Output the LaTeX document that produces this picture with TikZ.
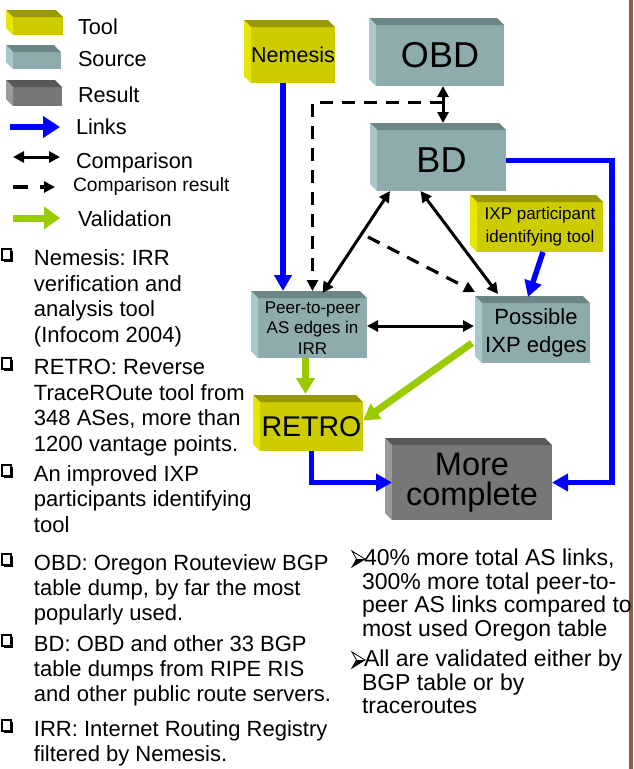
\documentclass[tikz,border=0pt]{standalone}
\usepackage{fontspec}
\setmainfont{Liberation Sans}
\usetikzlibrary{arrows.meta,calc}

\definecolor{toolF}{HTML}{CCCC00}
\definecolor{toolT}{HTML}{999900}
\definecolor{toolL}{HTML}{E6E600}
\definecolor{srcF}{HTML}{8EACAD}
\definecolor{srcT}{HTML}{6C8586}
\definecolor{srcL}{HTML}{A9C8CC}
\definecolor{resF}{HTML}{777777}
\definecolor{resT}{HTML}{575757}
\definecolor{resL}{HTML}{9A9A9A}
\definecolor{linkblue}{HTML}{0000FF}
\definecolor{validgreen}{HTML}{99CC00}
\definecolor{framebrown}{HTML}{8E5B4B}

\newcommand\fs[2]{\fontsize{#1}{#2}\selectfont}

% top and left faces of a 3D box whose front face is node #1
\newcommand\boxfaces[3]{%
  \fill[#2] (#1.north west) -- ++(-7,-7) -- ($(#1.north east)+(-7,-7)$) -- (#1.north east) -- cycle;
  \fill[#3] (#1.north west) -- ++(-7,-7) -- ($(#1.south west)+(-7,-7)$) -- (#1.south west) -- cycle;}

% shadowed square bullet, #1 = baseline of the line
\newcommand\sqbullet[1]{%
  \fill[black] (3.5,#1-14.5) rectangle (12.5,#1-3.5);
  \filldraw[fill=white,draw=black,line width=1.6pt] (1.8,#1-16.2) rectangle (10.8,#1-5.2);}

% arrowhead bullet, #1 = baseline of the line
\newcommand\arbullet[1]{%
  \draw[line width=0.8pt,line join=miter] (352,#1-14) -- (365,#1-6) -- (352,#1+2) -- (356.5,#1-6) -- cycle;
  \fill (365,#1-6) -- (352,#1+2) -- (356.5,#1-6) -- cycle;}

\tikzset{
  every node/.style={inner sep=0pt,outer sep=0pt},
  toolbox/.style={fill=toolF,align=center},
  srcbox/.style={fill=srcF,align=center},
  resbox/.style={fill=resF,align=center},
  link/.style={draw=linkblue,line width=5.5pt,-{Triangle[width=17pt,length=16pt]}},
  valid/.style={draw=validgreen,line width=7pt,-{Triangle[width=18pt,length=16pt]}},
  cmp/.style={draw=black,line width=3pt,{Triangle[width=11pt,length=11pt]}-{Triangle[width=11pt,length=11pt]}},
  cres/.style={draw=black,line width=3.2pt,dash pattern=on 13pt off 9pt,-{Triangle[width=11pt,length=11pt]}},
  legtext/.style={anchor=base west,font=\fs{21.7}{25}},
  btext/.style={anchor=base west,font=\fs{22}{25}},
  rtext/.style={anchor=base west,font=\fs{23}{25}},
}

\begin{document}
\frenchspacing
\begin{tikzpicture}[x=1pt,y=-1pt]
\useasboundingbox (0,0) rectangle (634,769);
\fill[white] (0,0) rectangle (634,769);
\fill[framebrown] (629,0) rectangle (633,769);

% ---------- legend ----------
\node[toolbox,minimum width=50pt,minimum height=18pt] (legtool) at (38,26) {};
\boxfaces{legtool}{toolT}{toolL}
\node[srcbox,minimum width=48pt,minimum height=17pt] (legsrc) at (37,60.5) {};
\boxfaces{legsrc}{srcT}{srcL}
\node[resbox,minimum width=49pt,minimum height=19pt] (legres) at (37.5,96.5) {};
\boxfaces{legres}{resT}{resL}

\node[legtext] (ltool) at (78,34) {Tool};
\node[legtext] (lsrc) at (78,66) {Source};
\node[legtext] (lres) at (78,102) {Result};
\node[legtext] (llink) at (76,134) {Links};
\node[legtext] (lcmp) at (76,168) {Comparison};
\node[legtext,font=\fs{19.3}{22}] (lcres) at (73,191) {Comparison result};
\node[legtext] (lval) at (78,226) {Validation};

\coordinate (lk1) at (10,127);  \coordinate (lk2) at (60,127);
\coordinate (lc1) at (13,157);  \coordinate (lc2) at (60,157);
\coordinate (lr1) at (13,187);  \coordinate (lr2) at (55,187);
\coordinate (lv1) at (13,218);  \coordinate (lv2) at (60,218);
\draw[link,line width=6.5pt,-{Triangle[width=21pt,length=17pt]}] (lk1) -- (lk2);
\draw[cmp] (lc1) -- (lc2);
\draw[cres,dash pattern=on 15pt off 12pt] (lr1) -- (lr2);
\draw[valid,-{Triangle[width=22pt,length=16pt]}] (lv1) -- (lv2);

% ---------- boxes ----------
\node[toolbox,minimum width=84pt,minimum height=56pt,font=\fs{21.5}{25}] (nem) at (293,55) {Nemesis};
\boxfaces{nem}{toolT}{toolL}
\node[srcbox,minimum width=128pt,minimum height=61pt,font=\fs{36}{40}] (obd) at (440,55.5) {OBD};
\boxfaces{obd}{srcT}{srcL}
\node[srcbox,minimum width=129pt,minimum height=61pt,font=\fs{36}{40}] (bd) at (441.5,160.5) {BD};
\boxfaces{bd}{srcT}{srcL}
\node[toolbox,minimum width=126pt,minimum height=50pt,font=\fs{17}{23}] (ixpt) at (540,227) {IXP participant\\identifying tool};
\boxfaces{ixpt}{toolT}{toolL}
\node[srcbox,minimum width=109pt,minimum height=60pt,font=\fs{17}{20.5}] (p2p) at (312.5,328) {Peer-to-peer\\AS edges in\\IRR};
\boxfaces{p2p}{srcT}{srcL}
\node[srcbox,minimum width=108pt,minimum height=60pt,font=\fs{22}{28}] (pix) at (536,333) {Possible\\IXP edges};
\boxfaces{pix}{srcT}{srcL}
\node[toolbox,minimum width=103pt,minimum height=49pt,font=\fs{28.5}{32}] (retro) at (311.5,426.5) {RETRO};
\boxfaces{retro}{toolT}{toolL}
\node[resbox,minimum width=160pt,minimum height=75pt,font=\fs{32.5}{30}] (more) at (472,482.5) {More\\complete};
\boxfaces{more}{resT}{resL}

% ---------- connectors ----------
\coordinate (nemout) at ([xshift=-10pt]nem.south);
\coordinate (p2ptop) at ([yshift=7pt]p2p.north);
\draw[link] (nemout) -- (nemout |- p2ptop);

\coordinate (obdout) at ([xshift=3pt]obd.south);
\coordinate (bdtop) at ([yshift=7pt]bd.north);
\draw[cmp] (obdout) -- (obdout |- bdtop);
\coordinate (cmpmid) at ($(obdout)!0.45!(obdout |- bdtop)$);
\draw[cres] (cmpmid) -| (p2ptop);

\draw[cmp] ([xshift=13pt]bd.south west) -- ([xshift=10pt,yshift=5pt]p2p.north);
\draw[cmp] ([xshift=-21pt]bd.south) -- ([xshift=16pt,yshift=9pt]pix.north west);

\coordinate (cmpres) at (368,237);
\draw[cres] (cmpres) -- ([xshift=-7pt,yshift=11pt]pix.north west);

\coordinate (p2pr) at ([yshift=2pt]p2p.east);
\coordinate (pixl) at ([xshift=-8pt]pix.west);
\draw[cmp] (p2pr) -- (p2pr -| pixl);

\draw[link] ([xshift=3pt]ixpt.south) -- ([xshift=-8pt,yshift=6pt]pix.north);

\coordinate (p2pout) at ([xshift=-7pt]p2p.south);
\coordinate (retrotop) at ([yshift=8pt]retro.north);
\draw[valid] (p2pout) -- (p2pout |- retrotop);
\draw[valid] ([xshift=-10pt,yshift=-10pt]pix.west) -- ([yshift=6pt]retro.east);

\draw[link] (retro.south) |- (more.west);
\draw[link] (bd.east) -- ++(106,0) |- (more.east);

% ---------- left notes ----------
\sqbullet{265}
\node[btext] (n1a) at (34,265) {Nemesis: IRR};
\node[btext] (n1b) at (34,291) {verification and};
\node[btext] (n1c) at (34,316) {analysis tool};
\node[btext] (n1d) at (34,342) {(Infocom 2004)};
\sqbullet{374}
\node[btext] (n2a) at (34,374) {RETRO: Reverse};
\node[btext] (n2b) at (34,400) {TraceROute tool from};
\node[btext] (n2c) at (34,425) {348 ASes, more than};
\node[btext] (n2d) at (34,451) {1200 vantage points.};
\sqbullet{481}
\node[btext] (n3a) at (34,481) {An improved IXP};
\node[btext] (n3b) at (34,506) {participants identifying};
\node[btext] (n3c) at (34,532) {tool};
\sqbullet{570}
\node[btext] (n4a) at (34,570) {OBD: Oregon Routeview BGP};
\node[btext] (n4b) at (34,595) {table dump, by far the most};
\node[btext] (n4c) at (34,620) {popularly used.};
\sqbullet{651}
\node[btext] (n5a) at (34,651) {BD: OBD and other 33 BGP};
\node[btext] (n5b) at (34,676) {table dumps from RIPE RIS};
\node[btext] (n5c) at (34,701) {and other public route servers.};
\sqbullet{736}
\node[btext] (n6a) at (34,736) {IRR: Internet Routing Registry};
\node[btext] (n6b) at (34,761) {filtered by Nemesis.};

% ---------- right notes ----------
\arbullet{565}
\node[rtext] (r1a) at (364,565) {40\% more total AS links,};
\node[rtext] (r1b) at (362,589) {300\% more total peer-to-};
\node[rtext] (r1c) at (362,612) {peer AS links compared to};
\node[rtext] (r1d) at (362,636) {most used Oregon table};
\arbullet{666}
\node[rtext] (r2a) at (364,666) {All are validated either by};
\node[rtext] (r2b) at (362,690) {BGP table or by};
\node[rtext] (r2c) at (362,713) {traceroutes};
\end{tikzpicture}
\end{document}
